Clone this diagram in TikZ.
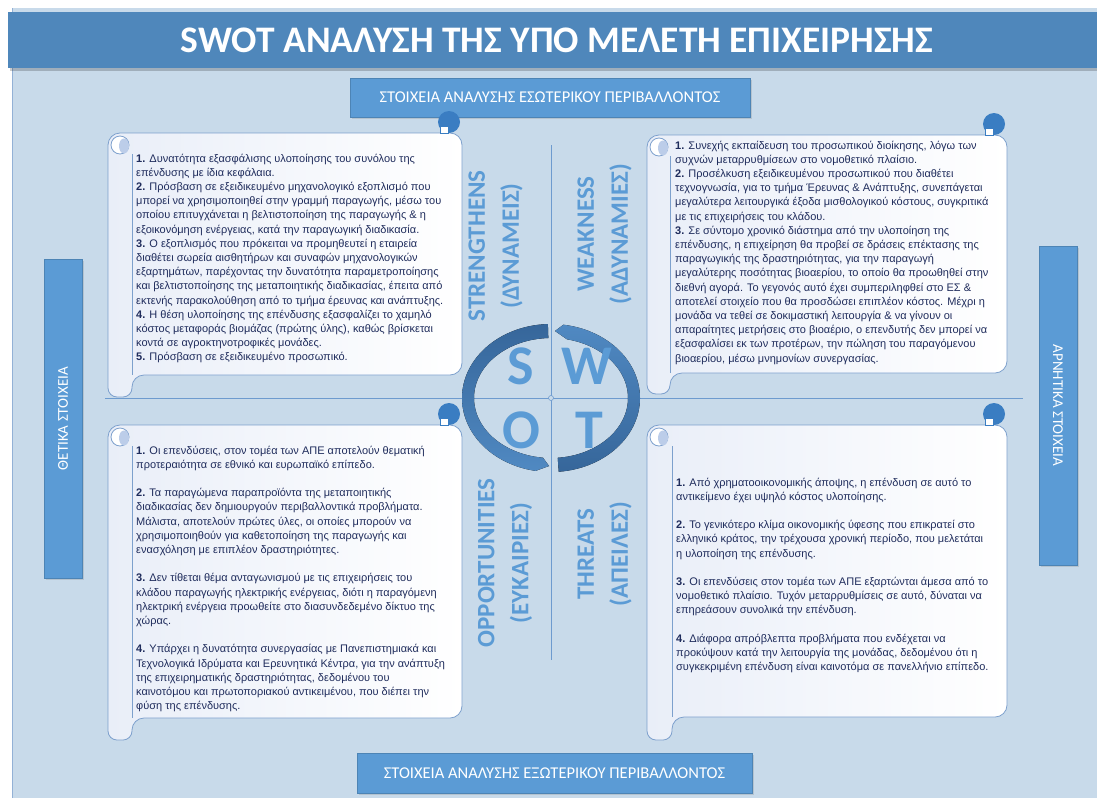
\documentclass[tikz,border=0pt]{standalone}
\usepackage{fontspec}
\setmainfont{Liberation Sans}
\newfontfamily\carlito{Carlito}
\usetikzlibrary{shadows}
\definecolor{panel}{HTML}{C8DAEA}
\definecolor{titlebar}{HTML}{4F87BB}
\definecolor{hdr}{HTML}{5B9BD5}
\definecolor{scrollborder}{HTML}{7DA0CD}
\definecolor{bodyleft}{HTML}{E9EEF8}
\definecolor{bodytext}{HTML}{1F2C5C}
\definecolor{labelblue}{HTML}{5B9BD5}
\definecolor{arcdark}{HTML}{36669A}
\definecolor{arclight}{HTML}{5089C2}
\definecolor{curlblue}{HTML}{3A7DC2}
\definecolor{curlfill}{HTML}{BCCDE9}
\definecolor{gridline}{HTML}{6E9BCF}
\newcommand\drawscroll[6]{%
  \path[shade, left color=bodyleft, right color=white, draw=scrollborder, line width=0.8pt]
    (#1,{(#4+#6)/2}) [rounded corners=12pt] -- (#1,#4) -- (#3,#4) -- (#3,#5) -- (#2,#5)
    [rounded corners=9pt] -- (#2,#6) -- (#1,#6) -- cycle;
  \draw[scrollborder, line width=0.8pt] (#2,{#4+21}) -- (#2,#5);
  \draw[scrollborder, line width=0.8pt, fill=white] ({#1+12},{#4+12}) circle (9pt);
  \fill[curlfill] ({#1+16},{#4+13}) ellipse (5pt and 7.5pt);
  \fill[curlblue] ({#3-13},{#4-11}) circle (11pt);
  \path[fill=white, draw=curlblue, line width=0.6pt] ({#3-22},{#4-7}) rectangle ({#3-14},{#4});
}
\begin{document}
\begin{tikzpicture}[x=1pt,y=-1pt,
  hdrbox/.style={fill=hdr, draw=hdr!85!black, line width=0.4pt, text=white, inner sep=0pt,
    drop shadow={opacity=0.25, shadow xshift=1.5pt, shadow yshift=-1.5pt},
    font=\carlito\fontsize{16.5}{18}\selectfont},
  sidebox/.style={fill=hdr, draw=hdr!85!black, line width=0.4pt, text=white, inner sep=0pt,
    drop shadow={opacity=0.25, shadow xshift=1.5pt, shadow yshift=-1.5pt},
    font=\carlito\fontsize{15}{17}\selectfont},
  bodytxt/.style={anchor=north west, inner sep=0pt, align=left, text=bodytext,
    font=\fontsize{11}{14.2}\selectfont},
  quadlabel/.style={rotate=90, align=center, text=labelblue, inner sep=0pt,
    font=\carlito\bfseries\fontsize{25}{34}\selectfont},
  swotletter/.style={text=labelblue, inner sep=0pt, font=\carlito\bfseries\fontsize{56}{60}\selectfont},
  gridln/.style={draw=gridline, line width=0.7pt}
]
\useasboundingbox (0,0) rectangle (1097,798);
\fill[white] (0,0) rectangle (1097,798);
\fill[panel] (12,8) rectangle (1097,798);
\draw[scrollborder!70!panel, line width=0.6pt] (12,8) -- (12,798);

% title bar
\fill[black, opacity=0.2] (10,14) rectangle (1097,71);
\fill[titlebar] (8,12) rectangle (1097,68);
\node[text=white, inner sep=0pt, font=\carlito\bfseries\fontsize{37.5}{42}\selectfont] (title) at (557,40) {SWOT ΑΝΑΛΥΣΗ ΤΗΣ ΥΠΟ ΜΕΛΕΤΗ ΕΠΙΧΕΙΡΗΣΗΣ};

% header boxes
\node[hdrbox, minimum width=400pt, minimum height=39pt] (inthdr) at (550,97.5) {ΣΤΟΙΧΕΙΑ ΑΝΑΛΥΣΗΣ ΕΣΩΤΕΡΙΚΟΥ ΠΕΡΙΒΑΛΛΟΝΤΟΣ};
\node[hdrbox, minimum width=395pt, minimum height=40pt] (exthdr) at (554.5,773) {ΣΤΟΙΧΕΙΑ ΑΝΑΛΥΣΗΣ ΕΞΩΤΕΡΙΚΟΥ ΠΕΡΙΒΑΛΛΟΝΤΟΣ};
\node[sidebox, rotate=90, minimum width=319pt, minimum height=38pt] (pos) at (63,418.5) {ΘΕΤΙΚΑ ΣΤΟΙΧΕΙΑ};
\node[sidebox, rotate=-90, minimum width=319pt, minimum height=38pt] (neg) at (1058,405.5) {ΑΡΝΗΤΙΚΑ ΣΤΟΙΧΕΙΑ};

% scrolls
\drawscroll{108}{132}{462}{133}{375}{397}
\drawscroll{647}{670}{1007}{135}{373}{394}
\drawscroll{108}{132}{462}{425}{718}{740}
\drawscroll{647}{672}{1007}{425}{717}{740}

% grid lines
\coordinate (hl) at (105,398);
\coordinate (hr) at (1023,398);
\coordinate (vt) at (551,145);
\coordinate (vb) at (551,660);
\path[gridln] (hl) -- (hr);
\path[gridln] (vt) -- (vb);
\draw[gridline, line width=0.6pt, fill=panel] (551,398) circle (2.5pt);

% arcs
\fill[top color=arcdark, bottom color=arclight]
  plot[domain=268:100, samples=60] ({551+89*cos(\x)},{398+74*sin(\x)}) -- (549,466)
  -- plot[domain=96:268, samples=60] ({551+77*cos(\x)},{398+60*sin(\x)}) -- cycle;
\fill[top color=arclight, bottom color=arcdark]
  (555,331) -- plot[domain=-82:85, samples=60] ({551+89*cos(\x)},{398+74*sin(\x)})
  -- plot[domain=85:-78, samples=60] ({551+77*cos(\x)},{398+60*sin(\x)}) -- cycle;

% letters
\node[swotletter] (S) at (521,366) {S};
\node[swotletter] (W) at (587,366) {W};
\node[swotletter] (O) at (521,430) {O};
\node[swotletter] (T) at (589,430) {T};

% quadrant labels
\node[quadlabel] (lS) at (495.5,246) {STRENGTHENS\\(ΔΥΝΑΜΕΙΣ)};
\node[quadlabel] (lW) at (604.5,234) {WEAKNESS\\(ΑΔΥΝΑΜΙΕΣ)};
\node[quadlabel] (lO) at (505,563) {OPPORTUNITIES\\(ΕΥΚΑΙΡΙΕΣ)};
\node[quadlabel] (lT) at (604.5,554) {THREATS\\(ΑΠΕΙΛΕΣ)};

% texts
\node[bodytxt] (tS) at (136,152) {\strut\textbf{1.} Δυνατότητα εξασφάλισης υλοποίησης του συνόλου της\\
επένδυσης με ίδια κεφάλαια.\\
\textbf{2.} Πρόσβαση σε εξειδικευμένο μηχανολογικό εξοπλισμό που\\
μπορεί να χρησιμοποιηθεί στην γραμμή παραγωγής, μέσω του\\
οποίου επιτυγχάνεται η βελτιστοποίηση της παραγωγής \& η\\
εξοικονόμηση ενέργειας, κατά την παραγωγική διαδικασία.\\
\textbf{3.} Ο εξοπλισμός που πρόκειται να προμηθευτεί η εταιρεία\\
διαθέτει σωρεία αισθητήρων και συναφών μηχανολογικών\\
εξαρτημάτων, παρέχοντας την δυνατότητα παραμετροποίησης\\
και βελτιστοποίησης της μεταποιητικής διαδικασίας, έπειτα από\\
εκτενής παρακολούθηση από το τμήμα έρευνας και ανάπτυξης.\\
\textbf{4.} Η θέση υλοποίησης της επένδυσης εξασφαλίζει το χαμηλό\\
κόστος μεταφοράς βιομάζας (πρώτης ύλης), καθώς βρίσκεται\\
κοντά σε αγροκτηνοτροφικές μονάδες.\\
\textbf{5.} Πρόσβαση σε εξειδικευμένο προσωπικό.};

\node[bodytxt] (tW) at (675,139) {\strut\textbf{1.} Συνεχής εκπαίδευση του προσωπικού διοίκησης, λόγω των\\
συχνών μεταρρυθμίσεων στο νομοθετικό πλαίσιο.\\
\textbf{2.} Προσέλκυση εξειδικευμένου προσωπικού που διαθέτει\\
τεχνογνωσία, για το τμήμα Έρευνας \& Ανάπτυξης, συνεπάγεται\\
μεγαλύτερα λειτουργικά έξοδα μισθολογικού κόστους, συγκριτικά\\
με τις επιχειρήσεις του κλάδου.\\
\textbf{3.} Σε σύντομο χρονικό διάστημα από την υλοποίηση της\\
επένδυσης, η επιχείρηση θα προβεί σε δράσεις επέκτασης της\\
παραγωγικής της δραστηριότητας, για την παραγωγή\\
μεγαλύτερης ποσότητας βιοαερίου, το οποίο θα προωθηθεί στην\\
διεθνή αγορά. Το γεγονός αυτό έχει συμπεριληφθεί στο ΕΣ \&\\
αποτελεί στοιχείο που θα προσδώσει επιπλέον κόστος. Μέχρι η\\
μονάδα να τεθεί σε δοκιμαστική λειτουργία \& να γίνουν οι\\
απαραίτητες μετρήσεις στο βιοαέριο, ο επενδυτής δεν μπορεί να\\
εξασφαλίσει εκ των προτέρων, την πώληση του παραγόμενου\\
βιοαερίου, μέσω μνημονίων συνεργασίας.};

\node[bodytxt] (tO) at (136,444) {\strut\textbf{1.} Οι επενδύσεις, στον τομέα των ΑΠΕ αποτελούν θεματική\\
προτεραιότητα σε εθνικό και ευρωπαϊκό επίπεδο.\\[14.2pt]
\textbf{2.} Τα παραγώμενα παραπροϊόντα της μεταποιητικής\\
διαδικασίας δεν δημιουργούν περιβαλλοντικά προβλήματα.\\
Μάλιστα, αποτελούν πρώτες ύλες, οι οποίες μπορούν να\\
χρησιμοποιηθούν για καθετοποίηση της παραγωγής και\\
ενασχόληση με επιπλέον δραστηριότητες.\\[14.2pt]
\textbf{3.} Δεν τίθεται θέμα ανταγωνισμού με τις επιχειρήσεις του\\
κλάδου παραγωγής ηλεκτρικής ενέργειας, διότι η παραγόμενη\\
ηλεκτρική ενέργεια προωθείτε στο διασυνδεδεμένο δίκτυο της\\
χώρας.\\[14.2pt]
\textbf{4.} Υπάρχει η δυνατότητα συνεργασίας με Πανεπιστημιακά και\\
Τεχνολογικά Ιδρύματα και Ερευνητικά Κέντρα, για την ανάπτυξη\\
της επιχειρηματικής δραστηριότητας, δεδομένου του\\
καινοτόμου και πρωτοποριακού αντικειμένου, που διέπει την\\
φύση της επένδυσης.};

\node[bodytxt] (tT) at (676,476) {\strut\textbf{1.} Από χρηματοοικονομικής άποψης, η επένδυση σε αυτό το\\
αντικείμενο έχει υψηλό κόστος υλοποίησης.\\[14.2pt]
\textbf{2.} Το γενικότερο κλίμα οικονομικής ύφεσης που επικρατεί στο\\
ελληνικό κράτος, την τρέχουσα χρονική περίοδο, που μελετάται\\
η υλοποίηση της επένδυσης.\\[14.2pt]
\textbf{3.} Οι επενδύσεις στον τομέα των ΑΠΕ εξαρτώνται άμεσα από το\\
νομοθετικό πλαίσιο. Τυχόν μεταρρυθμίσεις σε αυτό, δύναται να\\
επηρεάσουν συνολικά την επένδυση.\\[14.2pt]
\textbf{4.} Διάφορα απρόβλεπτα προβλήματα που ενδέχεται να\\
προκύψουν κατά την λειτουργία της μονάδας, δεδομένου ότι η\\
συγκεκριμένη επένδυση είναι καινοτόμα σε πανελλήνιο επίπεδο.};
\end{tikzpicture}
\end{document}
